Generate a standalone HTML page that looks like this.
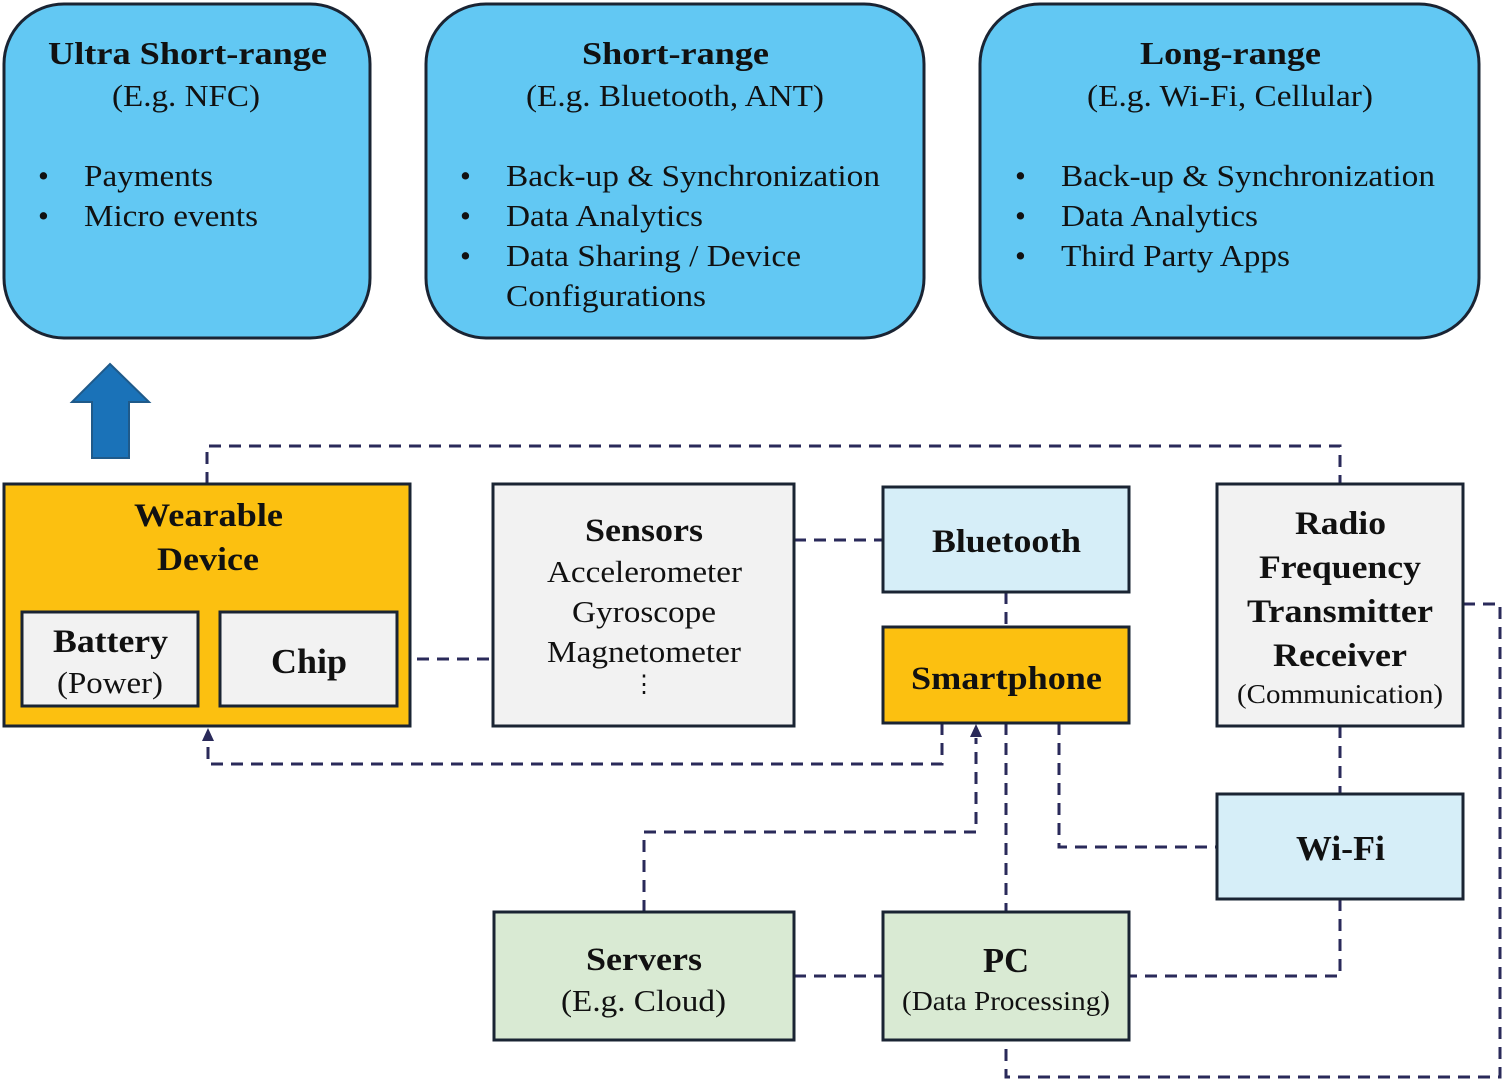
<!DOCTYPE html>
<html><head><meta charset="utf-8"><style>
html,body{margin:0;padding:0;background:#fff}
svg{display:block}
text{font-family:"Liberation Serif","Times New Roman",serif;fill:#111}
.b{font-weight:bold}
</style></head><body>
<svg width="1505" height="1083" viewBox="0 0 1505 1083" xmlns="http://www.w3.org/2000/svg">
<g stroke="#1a2433" stroke-width="3" fill="#62c8f3">
<rect x="4" y="4" width="366" height="334" rx="60"/>
<rect x="426" y="4" width="498" height="334" rx="60"/>
<rect x="980" y="4" width="499" height="334" rx="60"/>
</g>
<g font-size="31" lengthAdjust="spacingAndGlyphs">
<text x="48" y="64" class="b" font-size="32" textLength="279" lengthAdjust="spacingAndGlyphs">Ultra Short-range</text>
<text x="112" y="106" textLength="148" lengthAdjust="spacingAndGlyphs">(E.g. NFC)</text>
<text x="38" y="186">•</text><text x="84" y="186" textLength="129" lengthAdjust="spacingAndGlyphs">Payments</text>
<text x="38" y="226">•</text><text x="84" y="226" textLength="174" lengthAdjust="spacingAndGlyphs">Micro events</text>

<text x="582" y="64" class="b" font-size="32" textLength="187" lengthAdjust="spacingAndGlyphs">Short-range</text>
<text x="526" y="106" textLength="298" lengthAdjust="spacingAndGlyphs">(E.g. Bluetooth, ANT)</text>
<text x="460" y="186">•</text><text x="506" y="186" textLength="374" lengthAdjust="spacingAndGlyphs">Back-up &amp; Synchronization</text>
<text x="460" y="226">•</text><text x="506" y="226" textLength="197" lengthAdjust="spacingAndGlyphs">Data Analytics</text>
<text x="460" y="266">•</text><text x="506" y="266" textLength="295" lengthAdjust="spacingAndGlyphs">Data Sharing / Device</text>
<text x="506" y="306" textLength="200" lengthAdjust="spacingAndGlyphs">Configurations</text>

<text x="1140" y="64" class="b" font-size="32" textLength="181" lengthAdjust="spacingAndGlyphs">Long-range</text>
<text x="1087" y="106" textLength="286" lengthAdjust="spacingAndGlyphs">(E.g. Wi-Fi, Cellular)</text>
<text x="1015" y="186">•</text><text x="1061" y="186" textLength="374" lengthAdjust="spacingAndGlyphs">Back-up &amp; Synchronization</text>
<text x="1015" y="226">•</text><text x="1061" y="226" textLength="197" lengthAdjust="spacingAndGlyphs">Data Analytics</text>
<text x="1015" y="266">•</text><text x="1061" y="266" textLength="229" lengthAdjust="spacingAndGlyphs">Third Party Apps</text>
</g>
<polygon points="110,364 149,402 129,402 129,458 92,458 92,402 72,402" fill="#1a72b8" stroke="#1f5a8a" stroke-width="2"/>
<g fill="none" stroke="#2a2a5a" stroke-width="3" stroke-dasharray="12 8">
<polyline points="207,484 207,446 1340,446 1340,484"/>
<line x1="397" y1="659" x2="493" y2="659"/>
<line x1="794" y1="540" x2="883" y2="540"/>
<line x1="1006" y1="592" x2="1006" y2="627"/>
<polyline points="942,723 942,764 208,764 208,740"/>
<polyline points="644,912 644,832 976,832 976,738"/>
<line x1="1006" y1="723" x2="1006" y2="912"/>
<polyline points="1059,723 1059,847 1217,847"/>
<line x1="1340" y1="726" x2="1340" y2="794"/>
<polyline points="1340,899 1340,976 1129,976"/>
<line x1="794" y1="976" x2="883" y2="976"/>
<polyline points="1463,604 1500,604 1500,1077 1006,1077 1006,1040"/>
</g>
<polygon points="208,728 202,741 214,741" fill="#2a2a5a"/>
<polygon points="976,724 970,737 982,737" fill="#2a2a5a"/>
<g stroke="#1a2433" stroke-width="3">
<rect x="4" y="484" width="406" height="242" fill="#fcc010"/>
<rect x="22" y="612" width="176" height="94" fill="#f2f2f2"/>
<rect x="220" y="612" width="177" height="94" fill="#f2f2f2"/>
<rect x="493" y="484" width="301" height="242" fill="#f2f2f2"/>
<rect x="883" y="487" width="246" height="105" fill="#d6eef8"/>
<rect x="883" y="627" width="246" height="96" fill="#fcc010"/>
<rect x="1217" y="484" width="246" height="242" fill="#f2f2f2"/>
<rect x="1217" y="794" width="246" height="105" fill="#d6eef8"/>
<rect x="494" y="912" width="300" height="128" fill="#d9ead3"/>
<rect x="883" y="912" width="246" height="128" fill="#d9ead3"/>
</g>
<g font-size="31">
<text x="134" y="526" class="b" font-size="33" textLength="149" lengthAdjust="spacingAndGlyphs">Wearable</text>
<text x="157" y="570" class="b" font-size="33" textLength="102" lengthAdjust="spacingAndGlyphs">Device</text>
<text x="53" y="652" class="b" font-size="33" textLength="115" lengthAdjust="spacingAndGlyphs">Battery</text>
<text x="57" y="693" textLength="106" lengthAdjust="spacingAndGlyphs">(Power)</text>
<text x="271" y="673" class="b" font-size="35" textLength="76" lengthAdjust="spacingAndGlyphs">Chip</text>
<text x="585" y="541" class="b" font-size="33" textLength="118" lengthAdjust="spacingAndGlyphs">Sensors</text>
<text x="547" y="582" textLength="195" lengthAdjust="spacingAndGlyphs">Accelerometer</text>
<text x="572" y="622" textLength="144" lengthAdjust="spacingAndGlyphs">Gyroscope</text>
<text x="547" y="662" textLength="194" lengthAdjust="spacingAndGlyphs">Magnetometer</text>
<text x="644" y="692" font-size="24" text-anchor="middle">⋮</text>
<text x="932" y="552" class="b" font-size="33" textLength="149" lengthAdjust="spacingAndGlyphs">Bluetooth</text>
<text x="911" y="689" class="b" font-size="33" textLength="191" lengthAdjust="spacingAndGlyphs">Smartphone</text>
<text x="1295" y="534" class="b" font-size="33" textLength="91" lengthAdjust="spacingAndGlyphs">Radio</text>
<text x="1259" y="578" class="b" font-size="33" textLength="162" lengthAdjust="spacingAndGlyphs">Frequency</text>
<text x="1247" y="622" class="b" font-size="33" textLength="186" lengthAdjust="spacingAndGlyphs">Transmitter</text>
<text x="1273" y="666" class="b" font-size="33" textLength="134" lengthAdjust="spacingAndGlyphs">Receiver</text>
<text x="1237" y="703" font-size="27" textLength="206" lengthAdjust="spacingAndGlyphs">(Communication)</text>
<text x="1296" y="860" class="b" font-size="35" textLength="89" lengthAdjust="spacingAndGlyphs">Wi-Fi</text>
<text x="586" y="970" class="b" font-size="33" textLength="116" lengthAdjust="spacingAndGlyphs">Servers</text>
<text x="561" y="1011" textLength="165" lengthAdjust="spacingAndGlyphs">(E.g. Cloud)</text>
<text x="983" y="972" class="b" font-size="35" textLength="46" lengthAdjust="spacingAndGlyphs">PC</text>
<text x="902" y="1010" font-size="27" textLength="208" lengthAdjust="spacingAndGlyphs">(Data Processing)</text>
</g>
</svg>
</body></html>
